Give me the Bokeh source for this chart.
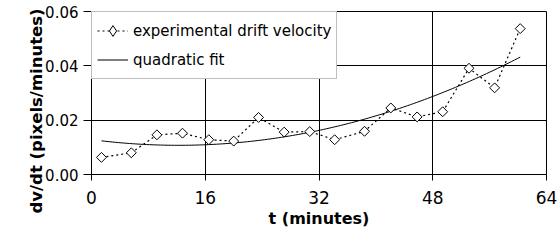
import numpy as np
from math import pi
from bokeh.plotting import figure
from bokeh.models import (Range1d, FixedTicker, NumeralTickFormatter, Legend, LegendItem, Title)
from bokeh.embed import file_html
from bokeh.resources import INLINE

# data
t_minutes = [1.4, 5.6, 9.2, 12.8, 16.5, 20.0, 23.5, 27.1, 30.7, 34.2, 38.4, 42.1, 45.8, 49.4, 53.1, 56.7, 60.3]
drift_velocity = [0.0063, 0.0080, 0.0146, 0.0152, 0.0128, 0.0123, 0.0210, 0.0156, 0.0158, 0.0128,
                  0.0159, 0.0245, 0.0212, 0.0231, 0.0391, 0.0319, 0.0537]
x_ticks = [0, 16, 32, 48, 64]
y_ticks = [0.0, 0.02, 0.04, 0.06]
series_labels = ["experimental drift velocity", "quadratic fit"]
x_label = "t (minutes)"
y_label = "dv/dt (pixels/minutes)"

# quadratic least-squares fit of the data
coef = np.polyfit(t_minutes, drift_velocity, 2)
t_fit = np.linspace(t_minutes[0], t_minutes[-1], 150)
v_fit = np.polyval(coef, t_fit)

FONT = "DejaVu Sans"

p = figure(width=560, height=242, output_backend="svg", toolbar_location=None,
           x_range=Range1d(0, 64), y_range=Range1d(0, 0.06),
           min_border_left=91, min_border_right=14, min_border_top=11, min_border_bottom=68)
p.background_fill_color = "white"
p.border_fill_color = "white"
p.outline_line_color = "black"
p.outline_line_width = 1

# grid
p.xgrid.ticker = FixedTicker(ticks=x_ticks)
p.ygrid.ticker = FixedTicker(ticks=y_ticks)
p.xgrid.grid_line_color = "black"
p.ygrid.grid_line_color = "black"
p.xgrid.grid_line_width = 1
p.ygrid.grid_line_width = 1

# x axis
xa = p.xaxis[0]
xa.ticker = FixedTicker(ticks=x_ticks)
xa.axis_line_color = "black"
xa.major_tick_line_color = "black"
xa.major_tick_in = 0
xa.major_tick_out = 6
xa.minor_tick_line_color = None
xa.major_label_text_font = FONT
xa.major_label_text_font_size = "17px"
xa.major_label_text_color = "black"
xa.major_label_standoff = 10
xa.axis_label = x_label
xa.axis_label_text_font = FONT
xa.axis_label_text_font_style = "bold"
xa.axis_label_text_font_size = "16px"
xa.axis_label_text_color = "black"
xa.axis_label_standoff = 2

# y axis
ya = p.yaxis[0]
ya.ticker = FixedTicker(ticks=y_ticks)
ya.formatter = NumeralTickFormatter(format="0.00")
ya.axis_line_color = "black"
ya.major_tick_line_color = "black"
ya.major_tick_in = 0
ya.major_tick_out = 8
ya.minor_tick_line_color = None
ya.major_label_text_font = FONT
ya.major_label_text_font_size = "15px"
ya.major_label_text_color = "black"
ya.major_label_standoff = 5

# y axis title (sits lower than the frame centre in the reference)
p.add_layout(Title(text=y_label, align="left", offset=-39, standoff=-6,
                   text_font=FONT, text_font_style="bold", text_font_size="16.5px",
                   text_color="black"), "left")

# series
fit_r = p.line(t_fit, v_fit, line_color="black", line_width=1)
data_line = p.line(t_minutes, drift_velocity, line_color="black", line_width=1.2, line_dash="2 3")
data_pts = p.scatter(t_minutes, drift_velocity, marker="square", angle=pi / 4, size=7,
                     fill_color="white", line_color="black", line_width=1)
# legend-only diamond: same data, hidden in the plot area
legend_marker = p.scatter(t_minutes, drift_velocity, marker="diamond",
                          fill_color="white", line_color="black", line_width=1, visible=False)

legend = Legend(items=[LegendItem(label=series_labels[0], renderers=[data_line, legend_marker]),
                       LegendItem(label=series_labels[1], renderers=[fit_r])],
                location="top_left", margin=0, padding=5, spacing=2,
                label_height=27, glyph_height=27, glyph_width=31, label_standoff=5,
                label_text_font=FONT, label_text_font_size="15px", label_text_color="black",
                border_line_color="#808080", border_line_width=1,
                background_fill_color="white", background_fill_alpha=1)
p.add_layout(legend, "center")

open("out.html", "w").write(file_html(p, INLINE))
